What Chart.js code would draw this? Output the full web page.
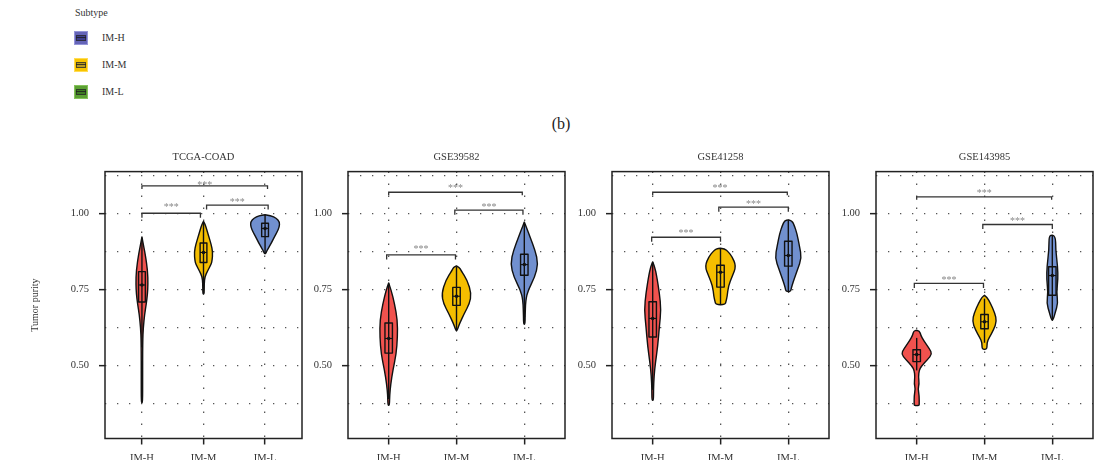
<!DOCTYPE html>
<html>
<head>
<meta charset="utf-8">
<script src="https://cdn.jsdelivr.net/npm/chart.js@4.4.1/dist/chart.umd.min.js"></script>
<style>
  body { margin: 0; width: 1105px; height: 460px; background: #fff; position: relative; overflow: hidden;
         font-family: "Liberation Serif", serif; color: #333; }
  .panel { position: absolute; top: 140px; height: 320px; }
  .txt { position: absolute; font-size: 10px; line-height: 14px; white-space: nowrap; }
  .key { position: absolute; left: 74px; width: 12px; height: 12px; border: 1px solid; }
  .key i { position: absolute; left: 1px; top: 3px; width: 8px; height: 4px; border: 1px solid rgba(40,40,40,0.75); }
  .key b { position: absolute; left: 1px; top: 5px; width: 10px; height: 1px; background: rgba(30,30,30,0.8); }
  #tag { position: absolute; left: 0; width: 1122px; top: 114px; text-align: center; font-size: 16px; line-height: 20px; color: #222; }
</style>
</head>
<body>
<div id="legend"></div>
<div id="tag">(b)</div>
<div class="panel" style="left:0px"><canvas id="c0" width="306" height="320"></canvas></div>
<div class="panel" style="left:308px"><canvas id="c1" width="261" height="320"></canvas></div>
<div class="panel" style="left:571px"><canvas id="c2" width="262" height="320"></canvas></div>
<div class="panel" style="left:835px"><canvas id="c3" width="262" height="320"></canvas></div>
<script>
const subtypes = ['IM-H', 'IM-M', 'IM-L'];
const cohorts = ['TCGA-COAD', 'GSE39582', 'GSE41258', 'GSE143985'];
const yLabelTicks = [0.50, 0.75, 1.00];
const yGridLevels = [0.375, 0.5, 0.625, 0.75, 0.875, 1.0, 1.125];
const violinColors = ['#F0524E', '#F5BE00', '#7190CF'];
const legendColors = ['#6464B8', '#F8C400', '#5BA033'];
const legendEdges = ['#9595D8', '#FFDC55', '#86C25C'];
const legendInner = ['#3E3E8C', '#B89A22', '#3D7A22'];

// violin outline per subtype: [tumor purity, half width in category units], top to bottom
const tcgaViolins = [
  [[0.923,0],[0.895,0.025],[0.866,0.054],[0.811,0.093],[0.768,0.098],[0.735,0.090],[0.702,0.070],[0.669,0.044],[0.625,0.022],[0.58,0.012],[0.45,0.011],[0.38,0.011],[0.378,0]],
  [[0.974,0],[0.965,0.025],[0.95,0.049],[0.93,0.077],[0.90,0.123],[0.872,0.151],[0.845,0.139],[0.834,0.126],[0.811,0.066],[0.792,0.022],[0.77,0.012],[0.74,0.011],[0.735,0]],
  [[0.996,0],[0.993,0.098],[0.985,0.180],[0.972,0.238],[0.955,0.230],[0.94,0.197],[0.925,0.156],[0.905,0.107],[0.89,0.066],[0.878,0.030],[0.870,0.016],[0.868,0]]
];
const gse39582Violins = [
  [[0.772,0],[0.748,0.037],[0.704,0.086],[0.649,0.129],[0.594,0.130],[0.538,0.111],[0.485,0.062],[0.439,0.030],[0.40,0.014],[0.372,0.012],[0.369,0]],
  [[0.828,0],[0.823,0.044],[0.813,0.066],[0.780,0.160],[0.737,0.219],[0.704,0.192],[0.671,0.115],[0.638,0.044],[0.62,0.018],[0.614,0]],
  [[0.972,0],[0.955,0.030],[0.923,0.084],[0.879,0.160],[0.835,0.204],[0.791,0.155],[0.748,0.056],[0.715,0.020],[0.66,0.012],[0.638,0.011],[0.636,0]]
];
const gse41258Violins = [
  [[0.841,0],[0.825,0.030],[0.794,0.059],[0.739,0.099],[0.684,0.123],[0.629,0.099],[0.563,0.074],[0.509,0.040],[0.465,0.020],[0.42,0.012],[0.388,0.012],[0.386,0]],
  [[0.886,0],[0.884,0.066],[0.875,0.111],[0.860,0.167],[0.827,0.232],[0.794,0.173],[0.761,0.115],[0.728,0.099],[0.710,0.081],[0.702,0.069],[0.700,0]],
  [[0.979,0],[0.977,0.055],[0.960,0.089],[0.936,0.126],[0.892,0.165],[0.854,0.196],[0.816,0.136],[0.777,0.074],[0.755,0.044],[0.745,0.037],[0.743,0]]
];
const gse143985Violins = [
  [[0.616,0],[0.614,0.044],[0.60,0.059],[0.582,0.103],[0.554,0.192],[0.538,0.226],[0.521,0.165],[0.497,0.066],[0.484,0.037],[0.465,0.026],[0.440,0.037],[0.425,0.020],[0.40,0.037],[0.375,0.037],[0.369,0.037],[0.368,0]],
  [[0.731,0],[0.725,0.037],[0.706,0.086],[0.673,0.152],[0.645,0.180],[0.618,0.136],[0.591,0.066],[0.575,0.037],[0.555,0.037],[0.553,0]],
  [[0.929,0],[0.927,0.049],[0.882,0.049],[0.827,0.078],[0.783,0.084],[0.739,0.062],[0.706,0.084],[0.673,0.041],[0.655,0.020],[0.649,0]]
];

// box stats: [lower whisker, q1, median, q3, upper whisker]
const tcgaBoxes = [[0.56,0.709,0.765,0.809,0.92],[0.735,0.839,0.872,0.903,0.972],[0.870,0.924,0.951,0.968,0.995]];
const gse39582Boxes = [[0.39,0.541,0.589,0.640,0.77],[0.615,0.698,0.728,0.757,0.826],[0.64,0.797,0.832,0.866,0.97]];
const gse41258Boxes = [[0.42,0.594,0.655,0.710,0.84],[0.70,0.758,0.807,0.830,0.885],[0.745,0.827,0.862,0.909,0.978]];
const gse143985Boxes = [[0.484,0.513,0.536,0.552,0.591],[0.575,0.621,0.644,0.668,0.72],[0.65,0.731,0.796,0.825,0.928]];

// significance brackets (H-M, M-L, H-L): [from, to, bracket height, label height]
const sigLabels = ['***', '***', '***'];
const tcgaBrackets = [[1.0,1.95,1.001,1.028],[2.05,3.05,1.028,1.044],[1.0,3.04,1.091,1.102]];
const gse39582Brackets = [[0.97,1.985,0.864,0.890],[1.975,2.98,1.011,1.030],[1.0,2.97,1.070,1.091]];
const gse41258Brackets = [[0.985,2.0,0.922,0.942],[1.975,3.0,1.021,1.040],[1.0,2.985,1.070,1.093]];
const gse143985Brackets = [[0.965,1.985,0.770,0.788],[1.975,3.0,0.964,0.984],[1.0,2.99,1.055,1.076]];

const allViolins = [tcgaViolins, gse39582Violins, gse41258Violins, gse143985Violins];
const allBoxes = [tcgaBoxes, gse39582Boxes, gse41258Boxes, gse143985Boxes];
const allBrackets = [tcgaBrackets, gse39582Brackets, gse41258Brackets, gse143985Brackets];
const yAxisWidths = [105, 40, 41, 41];

Chart.defaults.font.family = '"Liberation Serif", serif';
Chart.defaults.color = '#333';

// legend for the subtype colours
const legend = document.getElementById('legend');
legend.innerHTML = '<div class="txt" style="left:75px;top:6px">Subtype</div>' +
  subtypes.map((s, i) => {
    const top = 31 + i * 27;
    return '<div class="key" style="top:' + top + 'px;background:' + legendColors[i] + ';border-color:' + legendEdges[i] + '">' +
      '<i style="background:' + legendInner[i] + '"></i><b></b></div>' +
      '<div class="txt" style="left:102px;top:' + (top - 0.5) + 'px">' + s + '</div>';
  }).join('');

// smooth closed path through the outline points
function smoothPath(ctx, pts) {
  ctx.beginPath();
  ctx.moveTo(pts[0][0], pts[0][1]);
  for (let i = 1; i < pts.length - 1; i++) {
    const mx = (pts[i][0] + pts[i + 1][0]) / 2, my = (pts[i][1] + pts[i + 1][1]) / 2;
    ctx.quadraticCurveTo(pts[i][0], pts[i][1], mx, my);
  }
  ctx.lineTo(pts[pts.length - 1][0], pts[pts.length - 1][1]);
  ctx.closePath();
}

const violinPlugin = {
  id: 'violin',
  beforeDatasetsDraw(chart, args, opts) {
    const { ctx, scales: { x, y } } = chart;
    ctx.save();
    opts.violins.forEach((outline, i) => {
      const xc = i + 1;
      const pts = [];
      outline.forEach(([v, w]) => pts.push([x.getPixelForValue(xc + w), y.getPixelForValue(v)]));
      for (let k = outline.length - 1; k >= 0; k--) {
        const [v, w] = outline[k];
        pts.push([x.getPixelForValue(xc - w), y.getPixelForValue(v)]);
      }
      smoothPath(ctx, pts);
      ctx.fillStyle = violinColors[i];
      ctx.fill();
      ctx.lineWidth = 1.4;
      ctx.lineJoin = 'round';
      ctx.strokeStyle = '#111';
      ctx.stroke();
    });
    opts.boxes.forEach(([lo, q1, med, q3, hi], i) => {
      const xc = x.getPixelForValue(i + 1);
      const hw = x.getPixelForValue(i + 1.055) - xc;
      ctx.strokeStyle = '#111';
      ctx.lineWidth = 1.4;
      ctx.beginPath();
      ctx.moveTo(xc, y.getPixelForValue(hi));
      ctx.lineTo(xc, y.getPixelForValue(lo));
      ctx.stroke();
      const top = y.getPixelForValue(q3), bot = y.getPixelForValue(q1);
      ctx.lineWidth = 1.4;
      ctx.strokeRect(xc - hw, top, hw * 2, bot - top);
      const my = y.getPixelForValue(med);
      ctx.lineWidth = 1.1;
      ctx.beginPath();
      ctx.moveTo(xc - hw, my);
      ctx.lineTo(xc + hw, my);
      ctx.stroke();
    });
    ctx.restore();
  },
  afterDatasetsDraw(chart, args, opts) {
    const { ctx, chartArea: a, scales: { x, y } } = chart;
    ctx.save();
    opts.brackets.forEach(([from, to, h, lh], i) => {
      const x1 = x.getPixelForValue(from), x2 = x.getPixelForValue(to), py = y.getPixelForValue(h);
      const tip = (to - from) > 1.5 ? 3 : 4.5;
      ctx.strokeStyle = '#333';
      ctx.lineWidth = 1.3;
      ctx.beginPath();
      ctx.moveTo(x1, py + tip);
      ctx.lineTo(x1, py);
      ctx.lineTo(x2, py);
      ctx.lineTo(x2, py + tip);
      ctx.stroke();
      ctx.fillStyle = '#888';
      ctx.font = '10px "Liberation Serif"';
      ctx.textAlign = 'center';
      ctx.textBaseline = 'alphabetic';
      ctx.fillText(sigLabels[i], (x1 + x2) / 2, y.getPixelForValue(lh) + 5.3);
    });
    // panel border
    ctx.strokeStyle = '#222';
    ctx.lineWidth = 1.5;
    ctx.strokeRect(a.left, a.top, a.width, a.height);
    ctx.restore();
  }
};

function drawPanel(k) {
  const boxes = allBoxes[k];
  new Chart(document.getElementById('c' + k), {
    type: 'scatter',
    data: {
      datasets: [{
        data: boxes.map((b, i) => ({ x: i + 1, y: b[2] })),
        pointRadius: 1.8,
        pointBackgroundColor: '#111',
        pointBorderWidth: 0
      }]
    },
    options: {
      responsive: false,
      animation: false,
      layout: { padding: { right: 4 } },
      plugins: {
        legend: { display: false },
        tooltip: { enabled: false },
        title: {
          display: true,
          text: cohorts[k],
          fullSize: false,
          font: { size: 10.5, weight: 'normal' },
          color: '#333',
          padding: { top: 11, bottom: 8 }
        },
        violin: { violins: allViolins[k], boxes: boxes, brackets: allBrackets[k] }
      },
      scales: {
        x: {
          type: 'linear',
          min: 0.4,
          max: 3.6,
          afterBuildTicks: (s) => { s.ticks = [1, 2, 3].map(v => ({ value: v })); },
          afterFit: (s) => { s.height = 21.5; },
          ticks: {
            callback: (v) => subtypes[v - 1],
            font: { size: 10.5 },
            color: '#333',
            padding: 7,
            autoSkip: false,
            maxRotation: 0
          },
          grid: { color: '#555', lineWidth: 1.3, tickLength: 6, tickColor: '#222', tickWidth: 1.5 },
          border: { display: false, dash: [1.3, 10.7] }
        },
        y: {
          type: 'linear',
          min: 0.26,
          max: 1.138,
          afterBuildTicks: (s) => { s.ticks = yGridLevels.map(v => ({ value: v })); },
          afterFit: (s) => { s.width = yAxisWidths[k]; },
          ticks: {
            callback: (v) => yLabelTicks.includes(v) ? v.toFixed(2) : '',
            font: { size: 10.5 },
            color: '#333',
            padding: 10,
            autoSkip: false
          },
          grid: {
            color: '#555',
            lineWidth: 1.3,
            tickLength: 6,
            tickWidth: 1.5,
            tickColor: (c) => (c.tick && yLabelTicks.includes(c.tick.value)) ? '#222' : 'rgba(0,0,0,0)'
          },
          border: { display: false, dash: [1.3, 10.7] },
          title: {
            display: k === 0,
            text: 'Tumor purity',
            font: { size: 10 },
            color: '#333',
            padding: { top: 29, bottom: 0 }
          }
        }
      }
    },
    plugins: [violinPlugin]
  });
}

cohorts.forEach((c, k) => drawPanel(k));
</script>
</body>
</html>
